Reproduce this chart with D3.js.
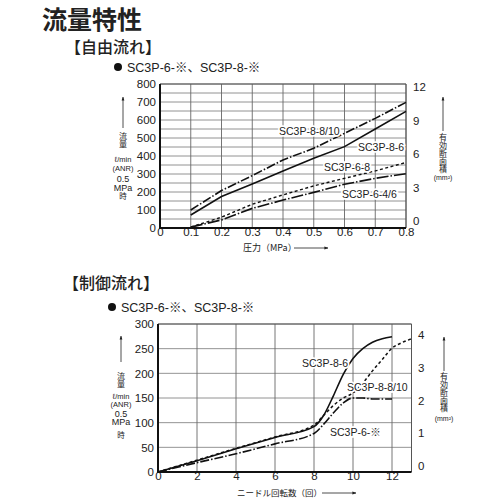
<!DOCTYPE html>
<html>
<head>
<meta charset="utf-8">
<script src="https://cdn.jsdelivr.net/npm/d3@7"></script>
<style>
  body { margin: 0; background: #fff; }
  text { font-family: "Liberation Sans", Arial, "Noto Sans CJK JP", sans-serif; fill: #222; }
  .jp { font-family: "Noto Sans CJK JP", sans-serif; }
</style>
</head>
<body>
<div id="chart"></div>
<script>
// free flow (top chart): pressure vs flow
const freePressure = [0.1, 0.2, 0.3, 0.4, 0.5, 0.6, 0.7, 0.8];
const free8_810 = [100, 208, 291, 378, 443, 526, 609, 698];
const free8_6   = [72, 175, 245, 317, 387, 452, 550, 648];
const free6_8   = [5, 60, 132, 184, 234, 276, 317, 364];
const free6_46  = [5, 45, 109, 155, 198, 243, 276, 302];
const freeXTicks = [0, 0.1, 0.2, 0.3, 0.4, 0.5, 0.6, 0.7, 0.8];
const freeYTicks = [0, 100, 200, 300, 400, 500, 600, 700, 800];
const freeRTicks = [0, 3, 6, 9, 12];

// controlled flow (bottom chart): needle turns vs flow
const ctl8_6_x = [0, 2, 4, 6, 8, 8.5, 9, 9.5, 10, 10.5, 11, 11.5, 12];
const ctl8_6_y = [0, 23, 47, 70, 92, 115, 155, 198, 230, 250, 263, 270, 274];
const ctl8_810_x = [0, 2, 4, 6, 8, 8.5, 9, 9.5, 10, 10.5, 11, 11.5, 12, 12.5, 13];
const ctl8_810_y = [0, 24, 48, 71, 95, 115, 135, 150, 160, 180, 205, 228, 251, 262, 270];
const ctl6_x = [0, 2, 4, 6, 8, 8.5, 9, 9.5, 10, 10.5, 11, 12];
const ctl6_y = [0, 19, 37, 57, 78, 97, 120, 140, 150, 150, 148, 148];
const ctlXTicks = [0, 2, 4, 6, 8, 10, 12];
const ctlYTicks = [0, 50, 100, 150, 200, 250, 300];
const ctlRTicks = [0, 1, 2, 3, 4];

const svg = d3.select("#chart").append("svg")
    .attr("width", 500)
    .attr("height", 500);

const defs = svg.append("defs");
defs.append("marker")
    .attr("id", "arr")
    .attr("viewBox", "0 0 10 10")
    .attr("refX", 9).attr("refY", 5)
    .attr("markerWidth", 5).attr("markerHeight", 5)
    .attr("orient", "auto")
    .append("path").attr("d", "M0,1.5L10,5L0,8.5Z").attr("fill", "#222");

// headings
svg.append("text").attr("class", "jp")
    .attr("x", 42).attr("y", 29)
    .attr("font-size", 25).attr("font-weight", 700)
    .text("流量特性");
svg.append("text").attr("class", "jp")
    .attr("x", 65).attr("y", 53)
    .attr("font-size", 16).attr("font-weight", 500)
    .text("【自由流れ】");
svg.append("text").attr("class", "jp")
    .attr("x", 63).attr("y", 289)
    .attr("font-size", 16).attr("font-weight", 500)
    .text("【制御流れ】");

function bulletLine(x, y) {
    svg.append("circle").attr("cx", x).attr("cy", y).attr("r", 4).attr("fill", "#111");
    svg.append("text").attr("x", x + 9).attr("y", y).attr("dy", "0.36em")
        .attr("font-size", 12.5)
        .text("SC3P-6-※、SC3P-8-※");
}
bulletLine(118, 67);
bulletLine(112, 307);

// vertical (top-to-bottom) Japanese text, y is the top of the column
function vjp(x, y, s, size) {
    svg.append("text").attr("class", "jp")
        .attr("x", x).attr("y", y)
        .attr("writing-mode", "vertical-rl")
        .attr("font-size", size)
        .text(s);
}
// small stacked latin lines
function stack(x, y0, step, items, size) {
    items.forEach((s, i) => {
        svg.append("text")
            .attr("x", x).attr("y", y0 + i * step)
            .attr("text-anchor", "middle").attr("dy", "0.35em")
            .attr("font-size", size).text(s);
    });
}
function arrow(x1, y1, x2, y2) {
    svg.append("line").attr("x1", x1).attr("x2", x2).attr("y1", y1).attr("y2", y2)
        .attr("stroke", "#222").attr("stroke-width", 0.8)
        .attr("marker-end", "url(#arr)");
}

function drawChart(cfg) {
    const g = svg.append("g");
    const x = cfg.x, y = cfg.y, yR = cfg.yR;
    const [x0, x1] = x.range();
    const [y0, y1] = y.range();

    // grid
    g.append("g").selectAll("line").data(cfg.gridY).join("line")
        .attr("x1", x0).attr("x2", x1)
        .attr("y1", d => y(d)).attr("y2", d => y(d))
        .attr("stroke", "#777").attr("stroke-width", 0.8);
    g.append("g").selectAll("line").data(cfg.gridX).join("line")
        .attr("x1", d => x(d)).attr("x2", d => x(d))
        .attr("y1", y0).attr("y2", y1)
        .attr("stroke", "#666").attr("stroke-width", 0.9);

    const font = "Liberation Sans, Arial, sans-serif";

    g.append("g")
        .attr("transform", `translate(${x0 - 1},0)`)
        .call(d3.axisLeft(y).tickValues(cfg.yTicks).tickSize(0).tickPadding(3)
            .tickFormat(d3.format("d")))
        .call(a => a.select(".domain").remove())
        .attr("font-size", 11.5).attr("font-family", font);

    g.append("g")
        .attr("transform", `translate(0,${y0})`)
        .call(d3.axisBottom(x).tickValues(cfg.xTicks).tickSize(0).tickPadding(0)
            .tickFormat(cfg.xFormat))
        .call(a => a.select(".domain").remove())
        .attr("font-size", 11.5).attr("font-family", font);

    // right axis labels (no tick marks)
    g.append("g")
        .attr("transform", `translate(${cfg.rightX},0)`)
        .call(d3.axisRight(yR).tickValues(cfg.rTicks).tickSize(0).tickPadding(0)
            .tickFormat(d3.format("d")))
        .call(a => a.select(".domain").remove())
        .attr("font-size", 11.5).attr("font-family", font);
    g.selectAll(".tick text").attr("fill", "#222");

    // frame: thin top/right, thick left/bottom
    g.append("path")
        .attr("d", `M${x0},${y1}H${x1}V${y0}`)
        .attr("fill", "none").attr("stroke", "#555").attr("stroke-width", 1);
    g.append("path")
        .attr("d", `M${x0},${y1}V${y0}H${x1}`)
        .attr("fill", "none").attr("stroke", "#111").attr("stroke-width", 2);

    cfg.series.forEach(s => {
        const pts = s.xs.map((v, i) => [v, s.ys[i]]);
        g.append("path")
            .attr("d", d3.line().x(d => x(d[0])).y(d => y(d[1])).curve(cfg.curve)(pts))
            .attr("fill", "none")
            .attr("stroke", "#111")
            .attr("stroke-width", s.w || 1.6)
            .attr("stroke-dasharray", s.dash || null);
    });

    // series labels with white halo
    cfg.labels.forEach(l => {
        g.append("text")
            .attr("x", l.x).attr("y", l.y).attr("dy", "0.35em")
            .attr("font-size", 10.5)
            .attr("stroke", "#fff").attr("stroke-width", 3.5)
            .attr("paint-order", "stroke")
            .text(l.t);
    });
}

// top chart
const fx = d3.scaleLinear().domain([0, 0.8]).range([160, 406]);
const fy = d3.scaleLinear().domain([0, 800]).range([228, 84]);
const fyR = d3.scaleLinear().domain([0, 12]).range([221, 87]);
drawChart({
    x: fx, y: fy, yR: fyR, rightX: 413,
    gridX: freeXTicks.slice(1),
    gridY: d3.range(50, 801, 50),
    xTicks: freeXTicks, yTicks: freeYTicks, rTicks: freeRTicks,
    xFormat: d => d === 0 ? "0" : d.toFixed(1),
    curve: d3.curveLinear,
    series: [
        { xs: freePressure, ys: free8_810, dash: "9,2,1.5,2" },
        { xs: freePressure, ys: free8_6 },
        { xs: freePressure, ys: free6_8, dash: "3,2.5", w: 1.4 },
        { xs: freePressure, ys: free6_46, dash: "12,2,1.5,2" }
    ],
    labels: [
        { x: 279, y: 131, t: "SC3P-8-8/10" },
        { x: 358, y: 147, t: "SC3P-8-6" },
        { x: 324, y: 167, t: "SC3P-6-8" },
        { x: 342, y: 194, t: "SC3P-6-4/6" }
    ]
});

// bottom chart
const cx = d3.scaleLinear().domain([0, 13]).range([158, 411.5]);
const cy = d3.scaleLinear().domain([0, 300]).range([472, 324]);
const cyR = d3.scaleLinear().domain([0, 4]).range([466, 335]);
drawChart({
    x: cx, y: cy, yR: cyR, rightX: 418,
    gridX: ctlXTicks.slice(1),
    gridY: ctlYTicks.slice(1),
    xTicks: ctlXTicks, yTicks: ctlYTicks, rTicks: ctlRTicks,
    xFormat: d3.format("d"),
    curve: d3.curveMonotoneX,
    series: [
        { xs: ctl8_6_x, ys: ctl8_6_y },
        { xs: ctl8_810_x, ys: ctl8_810_y, dash: "3,2.5", w: 1.5 },
        { xs: ctl6_x, ys: ctl6_y, dash: "9,2,1.5,2" }
    ],
    labels: [
        { x: 302, y: 363, t: "SC3P-8-6" },
        { x: 347, y: 387, t: "SC3P-8-8/10" },
        { x: 330, y: 432, t: "SC3P-6-※" }
    ]
});

// axis titles
svg.append("text").attr("class", "jp").attr("x", 243).attr("y", 248).attr("dy", "0.35em")
    .attr("font-size", 9).text("圧力（MPa）");
arrow(294, 248, 328, 248);
svg.append("text").attr("class", "jp").attr("x", 237).attr("y", 493).attr("dy", "0.35em")
    .attr("font-size", 8.5).text("ニードル回転数（回）");
arrow(322, 493, 356, 493);

// left titles
arrow(123, 128, 123, 97);
vjp(123, 132, "流量", 8);
stack(123, 159, 9, ["ℓ/min", "(ANR)"], 7.5);
stack(123, 178.5, 9, ["0.5", "MPa"], 9);
vjp(123, 192, "時", 7.5);

arrow(121, 362, 121, 336);
vjp(121, 372, "流量", 8);
stack(121, 396, 8.6, ["ℓ/min", "(ANR)"], 7.5);
stack(121, 413.5, 8.6, ["0.5", "MPa"], 9);
vjp(121, 431, "時", 7.5);

// right titles
arrow(443, 131, 443, 97);
vjp(443, 133, "有効断面積", 8);
stack(443, 178, 0, ["(mm²)"], 7);

arrow(444, 371, 444, 337);
vjp(444, 372, "有効断面積", 8);
stack(444, 419, 0, ["(mm²)"], 7);
</script>
</body>
</html>
